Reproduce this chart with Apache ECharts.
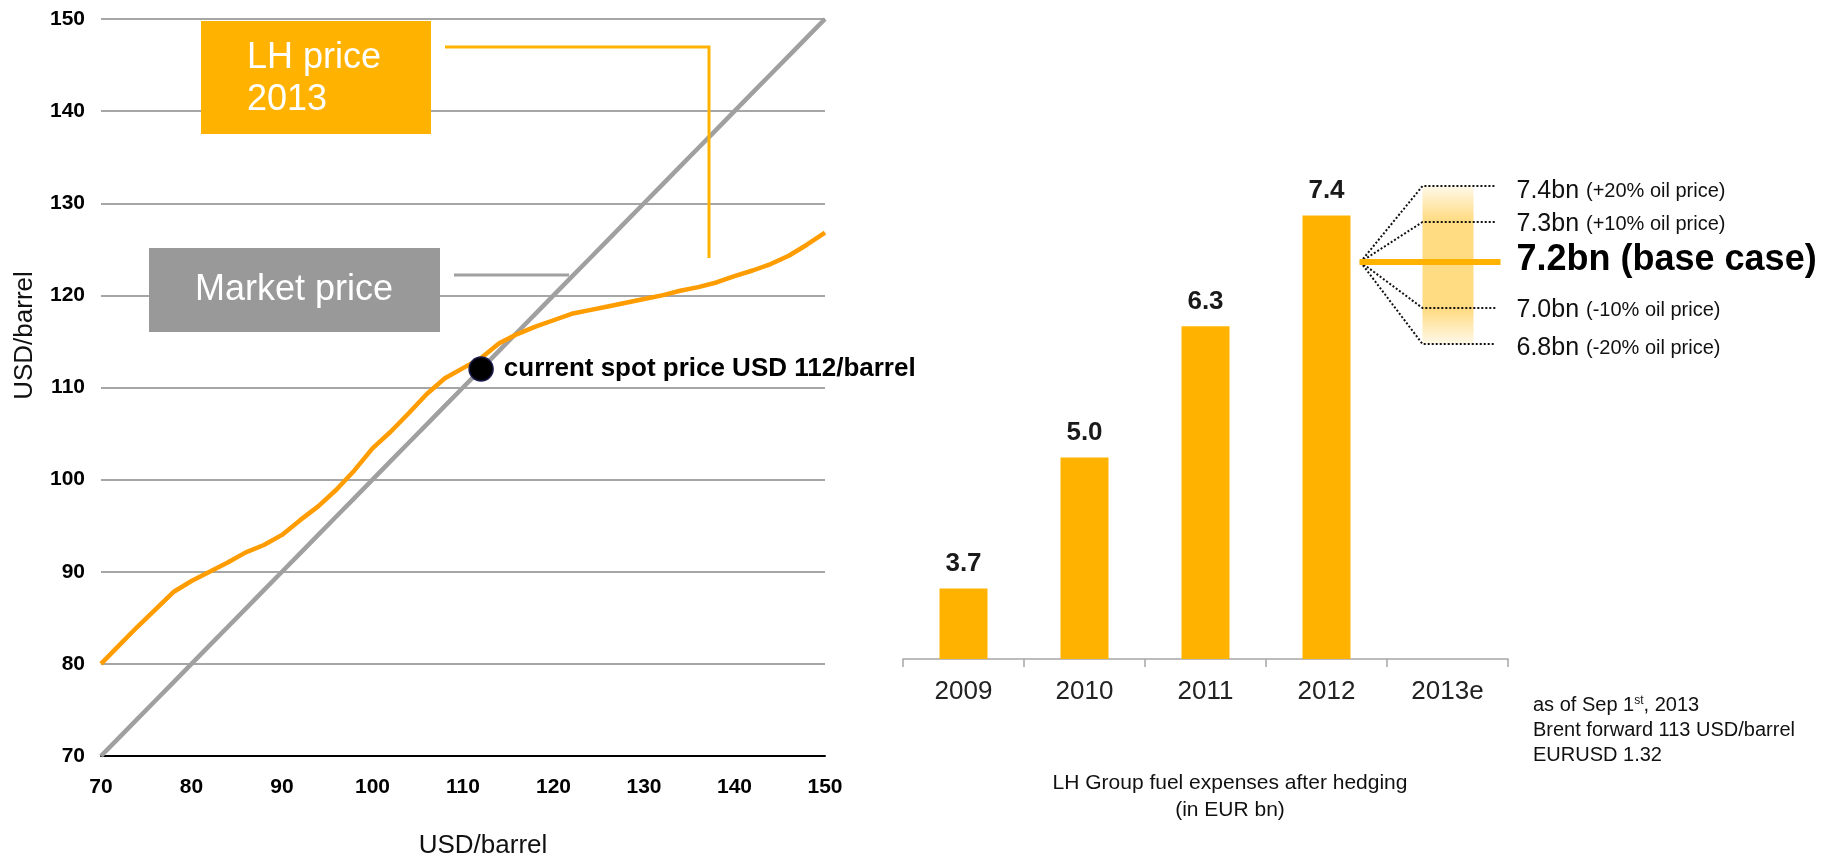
<!DOCTYPE html>
<html>
<head>
<meta charset="utf-8">
<script src="https://cdn.jsdelivr.net/npm/echarts@6/dist/echarts.min.js"></script>
<style>
  html, body { margin: 0; padding: 0; background: #ffffff; }
  #chart { width: 1848px; height: 864px; }
</style>
</head>
<body>
<div id="chart"></div>
<script>
// ---- Left panel: LH fuel price vs. market price (USD/barrel) ----
const marketX     = [70, 72, 74, 76, 78, 80, 82, 84, 86, 88, 90, 92, 94, 96, 98, 100, 102, 104, 106, 108, 110,
                     112, 114, 116, 118, 120, 122, 124, 126, 128, 130, 132, 134, 136, 138, 140, 142, 144, 146, 148, 150];
const marketPrice = [70, 72, 74, 76, 78, 80, 82, 84, 86, 88, 90, 92, 94, 96, 98, 100, 102, 104, 106, 108, 110,
                     112, 114, 116, 118, 120, 122, 124, 126, 128, 130, 132, 134, 136, 138, 140, 142, 144, 146, 148, 150];
const lhPrice     = [80.0, 82.0, 84.0, 85.9, 87.8, 89.0, 90.0, 91.0, 92.1, 92.9, 94.0, 95.6, 97.1, 98.9, 101.0, 103.4,
                     105.2, 107.2, 109.3, 111.0, 112.1, 113.2, 114.8, 115.8, 116.6, 117.3, 118.0, 118.4, 118.8, 119.2,
                     119.6, 120.0, 120.5, 120.9, 121.4, 122.1, 122.7, 123.4, 124.3, 125.5, 126.8];
const spotPrice = 112;
const priceMin = 70, priceMax = 150, priceStep = 10;

// ---- Right panel: LH Group fuel expenses after hedging (EUR bn) ----
const years        = ['2009', '2010', '2011', '2012', '2013e'];
const fuelExpenses = [3.7, 5.0, 6.3, 7.4, null];
const scenarioValues = [7.4, 7.3, 7.2, 7.0, 6.8];
const scenarioNotes  = ['+20% oil price', '+10% oil price', 'base case', '-10% oil price', '-20% oil price'];
const baseCaseIndex  = 2;
const footnoteText = 'as of Sep 1{sup|st}, 2013\nBrent forward 113 USD/barrel\nEURUSD 1.32';

const FONT = '"Liberation Sans", Arial, Helvetica, sans-serif';
const GOLD = '#FFB300';
const LINE_ORANGE = '#FF9C00';
const LINE_GREY = '#A0A0A0';

const chart = echarts.init(document.getElementById('chart'), null, { renderer: 'canvas' });

const option = {
  animation: false,
  backgroundColor: '#ffffff',
  textStyle: { fontFamily: FONT },
  title: {
    text: 'LH Group fuel expenses after hedging\n(in EUR bn)',
    left: 1225, top: 765, textAlign: 'center',
    textStyle: { fontFamily: FONT, fontSize: 21, fontWeight: 'normal', color: '#111', lineHeight: 27 }
  },
  grid: [
    { left: 101, top: 19, width: 724, height: 741 },
    { left: 903, top: 155, width: 605, height: 504 }
  ],
  xAxis: [
    {
      gridIndex: 0, type: 'value', min: priceMin, max: priceMax, interval: priceStep,
      name: 'USD/barrel', nameLocation: 'middle', nameGap: 77,
      nameTextStyle: { fontFamily: FONT, fontSize: 26, color: '#111', padding: [0, 0, 0, 40] },
      axisLine: { show: true, onZero: false, lineStyle: { color: '#000', width: 2 } },
      axisTick: { show: false },
      splitLine: { show: false },
      axisLabel: { margin: 21, fontFamily: FONT, fontSize: 21, fontWeight: 'bold', color: '#000' }
    },
    {
      gridIndex: 1, type: 'category', data: years,
      axisLine: { show: true, lineStyle: { color: '#A6A6A6', width: 1.5 } },
      axisTick: { show: true, alignWithLabel: false, length: 8, lineStyle: { color: '#A6A6A6', width: 1.5 } },
      axisLabel: { margin: 20, fontFamily: FONT, fontSize: 26, color: '#222' }
    }
  ],
  yAxis: [
    {
      gridIndex: 0, type: 'value', min: priceMin, max: priceMax, interval: priceStep,
      name: 'USD/barrel', nameLocation: 'middle', nameGap: 63,
      nameTextStyle: { fontFamily: FONT, fontSize: 26, color: '#111', padding: [0, 0, 0, 104] },
      axisLine: { show: false },
      axisTick: { show: false },
      splitLine: { show: true, lineStyle: { color: '#A6A6A6', width: 2 } },
      axisLabel: { margin: 16, fontFamily: FONT, fontSize: 21, fontWeight: 'bold', color: '#000' }
    },
    {
      gridIndex: 1, type: 'value', min: 3, max: 8, show: false,
      splitLine: { show: false }
    }
  ],
  series: [
    {
      name: 'Market price', type: 'line', xAxisIndex: 0, yAxisIndex: 0,
      data: marketX.map((x, i) => [x, marketPrice[i]]),
      showSymbol: false, smooth: false,
      lineStyle: { color: LINE_GREY, width: 4.5 }, z: 3
    },
    {
      name: 'LH price 2013', type: 'line', xAxisIndex: 0, yAxisIndex: 0,
      data: marketX.map((x, i) => [x, lhPrice[i]]),
      showSymbol: false, smooth: false,
      lineStyle: { color: LINE_ORANGE, width: 4.5 }, z: 4
    },
    {
      name: 'Spot price', type: 'scatter', xAxisIndex: 0, yAxisIndex: 0,
      data: [[spotPrice, spotPrice]],
      symbolSize: 24,
      itemStyle: { color: '#000', opacity: 1, borderColor: '#1c1c50', borderWidth: 1.5 },
      label: {
        show: true, position: 'right', distance: 10,
        formatter: 'current spot price USD ' + spotPrice + '/barrel',
        fontFamily: FONT, fontSize: 26, fontWeight: 'bold', color: '#000'
      },
      z: 10
    },
    {
      name: 'Fuel expenses', type: 'bar', xAxisIndex: 1, yAxisIndex: 1,
      data: fuelExpenses, barWidth: 48,
      itemStyle: { color: GOLD },
      label: {
        show: true, position: 'top', distance: 12,
        formatter: p => (p.value == null ? '' : Number(p.value).toFixed(1)),
        fontFamily: FONT, fontSize: 26, fontWeight: 'bold', color: '#1a1a1a'
      }
    }
  ]
};

chart.setOption(option);

// ---- Annotations (call-out boxes, sensitivity fan, footnote) ----
const x2012 = chart.convertToPixel({ xAxisIndex: 1 }, '2012');
const x2013 = chart.convertToPixel({ xAxisIndex: 1 }, '2013e');
const fanOriginX = x2012 + 34;
const fanRowY = [186, 222, 262, 308, 344];
const fanLabelY = [191, 224, 260, 310, 348];
const fanOriginY = fanRowY[baseCaseIndex];
const boxLeft = x2013 - 25, boxRight = x2013 + 26;
const dotEnd = x2013 + 48;
const labelX = x2013 + 69;

const graphics = [
  // LH price call-out
  { type: 'rect', shape: { x: 201, y: 21, width: 230, height: 113 }, style: { fill: GOLD }, z: 20 },
  { type: 'text', x: 247, y: 79, z: 21,
    style: { text: 'LH price\n2013', font: '36px ' + FONT, fill: '#fff', lineHeight: 42,
             textAlign: 'left', textVerticalAlign: 'middle' } },
  { type: 'polyline', shape: { points: [[445, 47], [709, 47], [709, 258]] },
    style: { stroke: GOLD, lineWidth: 3, fill: null }, z: 20 },
  // Market price call-out
  { type: 'rect', shape: { x: 149, y: 248, width: 291, height: 84 }, style: { fill: '#999999' }, z: 20 },
  { type: 'text', x: 294, y: 290, z: 21,
    style: { text: 'Market price', font: '36px ' + FONT, fill: '#fff',
             textAlign: 'center', textVerticalAlign: 'middle' } },
  { type: 'line', shape: { x1: 454, y1: 275, x2: 569, y2: 275 },
    style: { stroke: LINE_GREY, lineWidth: 3 }, z: 20 },
  // 2013e sensitivity range band
  { type: 'rect', shape: { x: boxLeft, y: fanRowY[0], width: boxRight - boxLeft, height: fanRowY[4] - fanRowY[0] },
    style: { fill: new echarts.graphic.LinearGradient(0, 0, 0, 1, [
      { offset: 0, color: 'rgba(255,204,77,0.12)' },
      { offset: 0.22, color: 'rgba(255,204,77,0.7)' },
      { offset: 0.78, color: 'rgba(255,204,77,0.7)' },
      { offset: 1, color: 'rgba(255,204,77,0.12)' }
    ]) }, z: 20 },
  // footnote
  { type: 'text', x: 1533, y: 730, z: 21,
    style: { text: footnoteText, font: '20px ' + FONT, fill: '#111', lineHeight: 25,
             textAlign: 'left', textVerticalAlign: 'middle',
             rich: { sup: { fontSize: 12, fontFamily: FONT, fill: '#111', padding: [0, 0, 9, 0] } } } }
];

scenarioValues.forEach((v, i) => {
  const y = fanRowY[i];
  if (i !== baseCaseIndex) {
    graphics.push({ type: 'polyline', z: 22,
      shape: { points: [[fanOriginX, fanOriginY], [boxLeft, y], [dotEnd, y]] },
      style: { stroke: '#111', lineWidth: 2, lineDash: [2, 2], fill: null } });
    graphics.push({ type: 'text', x: labelX, y: fanLabelY[i], z: 22,
      style: { text: '{v|' + v.toFixed(1) + 'bn }{n|(' + scenarioNotes[i] + ')}',
               textAlign: 'left', textVerticalAlign: 'middle',
               rich: { v: { fontSize: 25, fontFamily: FONT, fill: '#111' },
                       n: { fontSize: 20, fontFamily: FONT, fill: '#111' } } } });
  } else {
    graphics.push({ type: 'line', z: 23,
      shape: { x1: fanOriginX - 1, y1: y, x2: x2013 + 53, y2: y },
      style: { stroke: GOLD, lineWidth: 6 } });
    graphics.push({ type: 'text', x: labelX, y: fanLabelY[i], z: 22,
      style: { text: v.toFixed(1) + 'bn (' + scenarioNotes[i] + ')',
               font: 'bold 36px ' + FONT, fill: '#000',
               textAlign: 'left', textVerticalAlign: 'middle' } });
  }
});

chart.setOption({ graphic: graphics });
</script>
</body>
</html>
